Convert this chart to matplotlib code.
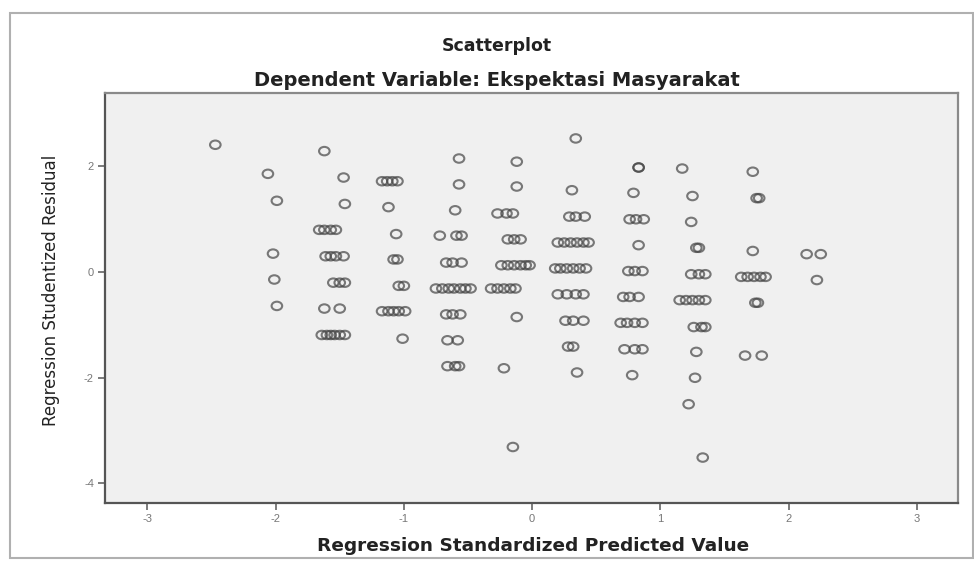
import matplotlib
matplotlib.use("Agg")
import matplotlib.pyplot as plt
from matplotlib.patches import Rectangle
from matplotlib.path import Path
from matplotlib.transforms import Affine2D

title = "Scatterplot"
subtitle = "Dependent Variable: Ekspektasi Masyarakat"
x_label = "Regression Standardized Predicted Value"
y_label = "Regression Studentized Residual"
x_ticks = [-3, -2, -1, 0, 1, 2, 3]
y_ticks = [-4, -2, 0, 2]

predicted = [
    -2.47,
    -2.06, -1.99, -2.02, -2.01, -1.99,
    -1.62, -1.47, -1.46, -1.66, -1.62, -1.57, -1.53, -1.61, -1.57, -1.53, -1.47,
    -1.55, -1.50, -1.46, -1.62, -1.50, -1.64, -1.60, -1.57, -1.54, -1.50, -1.46,
    -1.17, -1.13, -1.09, -1.05, -1.12, -1.06, -1.08, -1.05, -1.04, -1.00,
    -1.17, -1.12, -1.08, -1.04, -0.99, -1.01,
    -0.57, -0.57, -0.60, -0.72, -0.59, -0.55, -0.67, -0.62, -0.55,
    -0.75, -0.70, -0.65, -0.61, -0.56, -0.52, -0.48, -0.67, -0.62, -0.56,
    -0.66, -0.58, -0.66, -0.60, -0.57,
    -0.12, -0.12, -0.27, -0.20, -0.15, -0.19, -0.14, -0.09,
    -0.24, -0.19, -0.14, -0.09, -0.05, -0.02, -0.32, -0.27, -0.22, -0.17, -0.13,
    -0.12, -0.22, -0.15,
    0.34, 0.31, 0.29, 0.34, 0.41, 0.20, 0.25, 0.30, 0.35, 0.40, 0.44,
    0.18, 0.22, 0.27, 0.32, 0.37, 0.42, 0.20, 0.27, 0.34, 0.40,
    0.26, 0.32, 0.40, 0.28, 0.32, 0.35,
    0.83, 0.83, 0.79, 0.76, 0.81, 0.87, 0.83, 0.75, 0.80, 0.86,
    0.71, 0.76, 0.83, 0.69, 0.74, 0.80, 0.86, 0.72, 0.80, 0.86, 0.78,
    1.17, 1.25, 1.24, 1.28, 1.30, 1.24, 1.30, 1.35,
    1.15, 1.20, 1.25, 1.30, 1.35, 1.26, 1.32, 1.35, 1.28, 1.27, 1.22, 1.33,
    1.72, 1.75, 1.77, 1.72, 1.63, 1.68, 1.73, 1.78, 1.82, 1.74, 1.76, 1.66, 1.79,
    2.14, 2.25, 2.22,
]

residual = [
    2.41,
    1.86, 1.35, 0.35, -0.14, -0.64,
    2.29, 1.79, 1.29, 0.80, 0.80, 0.80, 0.80, 0.30, 0.30, 0.30, 0.30,
    -0.20, -0.20, -0.20, -0.69, -0.69, -1.19, -1.19, -1.19, -1.19, -1.19, -1.19,
    1.72, 1.72, 1.72, 1.72, 1.23, 0.72, 0.24, 0.24, -0.26, -0.26,
    -0.74, -0.74, -0.74, -0.74, -0.74, -1.26,
    2.15, 1.66, 1.17, 0.69, 0.69, 0.69, 0.18, 0.18, 0.18,
    -0.31, -0.31, -0.31, -0.31, -0.31, -0.31, -0.31, -0.80, -0.80, -0.80,
    -1.29, -1.29, -1.78, -1.78, -1.78,
    2.09, 1.62, 1.11, 1.11, 1.11, 0.62, 0.62, 0.62,
    0.13, 0.13, 0.13, 0.13, 0.13, 0.13, -0.31, -0.31, -0.31, -0.31, -0.31,
    -0.85, -1.82, -3.31,
    2.53, 1.55, 1.05, 1.05, 1.05, 0.56, 0.56, 0.56, 0.56, 0.56, 0.56,
    0.07, 0.07, 0.07, 0.07, 0.07, 0.07, -0.42, -0.42, -0.42, -0.42,
    -0.92, -0.92, -0.92, -1.41, -1.41, -1.90,
    1.98, 1.98, 1.50, 1.00, 1.00, 1.00, 0.51, 0.02, 0.02, 0.02,
    -0.47, -0.47, -0.47, -0.96, -0.96, -0.96, -0.96, -1.46, -1.46, -1.46, -1.95,
    1.96, 1.44, 0.95, 0.46, 0.46, -0.04, -0.04, -0.04,
    -0.53, -0.53, -0.53, -0.53, -0.53, -1.04, -1.04, -1.04, -1.51, -2.00, -2.50, -3.51,
    1.90, 1.40, 1.40, 0.40, -0.09, -0.09, -0.09, -0.09, -0.09, -0.58, -0.58, -1.58, -1.58,
    0.34, 0.34, -0.15,
]

plt.rcParams['font.family'] = ['Liberation Sans', 'DejaVu Sans']

fig = plt.figure(figsize=(9.74, 5.69), dpi=100)
fig.patch.set_facecolor('white')

# outer chart frame
fig.patches.append(Rectangle((10 / 974, 1 - 558 / 569), 963 / 974, 545 / 569,
                             transform=fig.transFigure, fill=False,
                             edgecolor='#b0b0b0', linewidth=1.5))

ax = fig.add_axes([105 / 974, 66 / 569, 853 / 974, 410 / 569])
ax.set_facecolor('#f0f0f0')

# slightly flattened open circle, like the stretched SPSS markers
ellipse_marker = Path.unit_circle().transformed(Affine2D().scale(1.0, 0.8))

ax.scatter(predicted, residual, s=58, marker=ellipse_marker, facecolors='none',
           edgecolors='#444444', linewidths=1.5, alpha=0.7, zorder=3)

ax.set_xlim(-3.33, 3.32)
ax.set_ylim(-4.37, 3.39)
ax.set_xticks(x_ticks)
ax.set_yticks(y_ticks)
ax.set_xticklabels([str(v) for v in x_ticks])
ax.set_yticklabels([str(v) for v in y_ticks])
ax.tick_params(axis='both', direction='out', length=5, width=1.2, color='#666666',
               labelsize=8, labelcolor='#777777', pad=3)

for side in ['left', 'bottom']:
    ax.spines[side].set_color('#555555')
    ax.spines[side].set_linewidth(1.6)
for side in ['right', 'top']:
    ax.spines[side].set_color('#8a8a8a')
    ax.spines[side].set_linewidth(1.6)

fig.text(497 / 974, 1 - 46 / 569, title, ha='center', va='center',
         fontsize=12.5, fontweight='bold', color='#222222', family=['DejaVu Sans'])
fig.text(497 / 974, 1 - 80 / 569, subtitle, ha='center', va='center',
         fontsize=14, fontweight='bold', color='#222222', family=['DejaVu Sans'])
fig.text(533 / 974, 1 - 546 / 569, x_label, ha='center', va='center',
         fontsize=13.3, fontweight='bold', color='#222222', family=['DejaVu Sans'])
fig.text(51 / 974, 1 - 290 / 569, y_label, ha='center', va='center', rotation=90,
         fontsize=12, color='#222222', family=['DejaVu Sans'])

fig.savefig('out.png', dpi=100, facecolor='white')
